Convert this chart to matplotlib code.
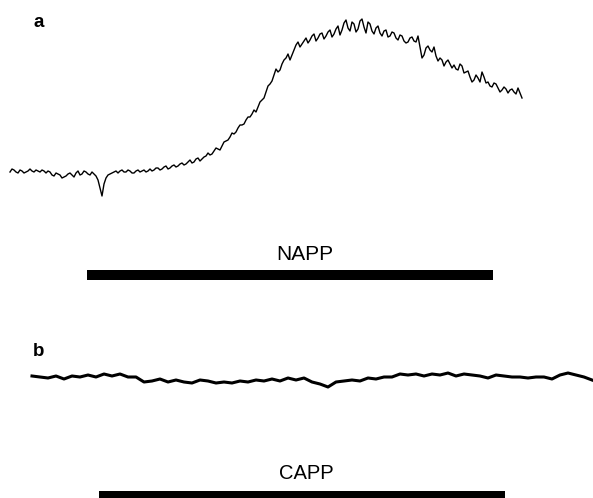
import matplotlib
matplotlib.use("Agg")
import matplotlib.pyplot as plt
import numpy as np

plt.rcParams['font.family'] = ['Liberation Sans', 'DejaVu Sans']

# panel a: fluorescence trace, NAPP application (sampled every 1 s)
dt_a = 1.0
signal_a = [0, 3, 2, 0, -1, 2, 1, -1, 0, 1, 3, 1, 0, 2, 1, 0, 2, 1, -1, 1,
            0, -3, -4, -1, -2, -3, -6, -5, -4, -2, -1, -3, -5, -1, 1, -3, -2, 1, 0, -2,
            -3, 0, -2, -4, -8, -16, -24, -12, -6, -3, -2, -1, 0, 1, -1, 1, 2, 0, 0, 2,
            1, -1, -1, 1, 2, 0, 1, 2, 0, 1, 3, 1, 2, 4, 4, 2, 3, 5, 6, 3,
            4, 6, 7, 5, 6, 8, 9, 7, 8, 10, 12, 9, 10, 13, 14, 11, 13, 15, 16, 19,
            17, 18, 21, 24, 23, 22, 26, 30, 31, 32, 35, 39, 38, 40, 44, 47, 47, 48, 52, 55,
            55, 58, 62, 60, 65, 70, 72, 74, 80, 86, 88, 91, 97, 103, 100, 102, 108, 112, 114, 118,
            112, 117, 122, 127, 130, 125, 128, 131, 134, 129, 132, 136, 138, 131, 134, 138, 139, 133, 136, 140,
            142, 135, 138, 143, 146, 137, 142, 149, 152, 144, 141, 150, 148, 140, 143, 151, 153, 145, 139, 150,
            148, 141, 138, 144, 146, 139, 136, 141, 142, 135, 136, 140, 139, 134, 132, 137, 136, 131, 129, 130,
            134, 135, 131, 130, 136, 125, 114, 117, 124, 126, 122, 120, 125, 116, 111, 114, 112, 106, 110, 112,
            108, 104, 107, 103, 102, 108, 106, 99, 100, 101, 95, 90, 92, 97, 94, 90, 100, 95, 89, 90,
            86, 85, 89, 88, 84, 80, 82, 85, 83, 79, 82, 83, 80, 78, 84, 79, 74]
napp_on, napp_off = 38.5, 241.5

# panel b: fluorescence trace, CAPP application (sampled every 4 s)
dt_b = 4.0
signal_b = [1, 0, -1, 1, -2, 1, 0, 2, 0, 3, 1, 3, 0, 0, -5, -4, -2, -5, -3, -5,
            -6, -3, -4, -6, -5, -6, -4, -5, -3, -4, -2, -4, -1, -3, -1, -5, -7, -10, -5, -4,
            -3, -4, -1, -2, 0, 0, 3, 2, 3, 1, 3, 2, 4, 1, 3, 2, 1, -1, 2, 1,
            0, 0, -1, 0, 0, -2, 2, 4, 2, 0, -3]
capp_on, capp_off = 33.5, 236.5

t_a = np.arange(len(signal_a)) * dt_a
t_b = np.arange(len(signal_b)) * dt_b

W, H = 593, 498
fig = plt.figure(figsize=(W / 100, H / 100), dpi=100)

ax_a = fig.add_axes([0, 198 / H, 1, 300 / H])
ax_a.plot(t_a, signal_a, color="black", lw=1.0)
ax_a.plot([napp_on, napp_off], [-103, -103], color="black", lw=7.2,
          solid_capstyle="butt")
ax_a.text(147.5, -88, "NAPP", ha="center", va="baseline", fontsize=15)
ax_a.set_xlim(-5, 291.5)
ax_a.set_ylim(-128, 172)
ax_a.axis("off")

ax_b = fig.add_axes([0, 0, 1, 198 / H])
ax_b.plot(t_b, signal_b, color="black", lw=2.2)
ax_b.plot([capp_on, capp_off], [-119, -119], color="black", lw=7.2,
          solid_capstyle="butt")
ax_b.text(137, -102, "CAPP", ha="center", va="baseline", fontsize=14.5)
ax_b.set_xlim(-16, 280.5)
ax_b.set_ylim(-121, 77)
ax_b.axis("off")

fig.text(33 / W, 1 - 27 / H, "a", fontsize=13.5, fontweight="bold", va="baseline")
fig.text(33 / W, 1 - 356 / H, "b", fontsize=13.5, fontweight="bold", va="baseline")

fig.savefig("out.png", dpi=100)
